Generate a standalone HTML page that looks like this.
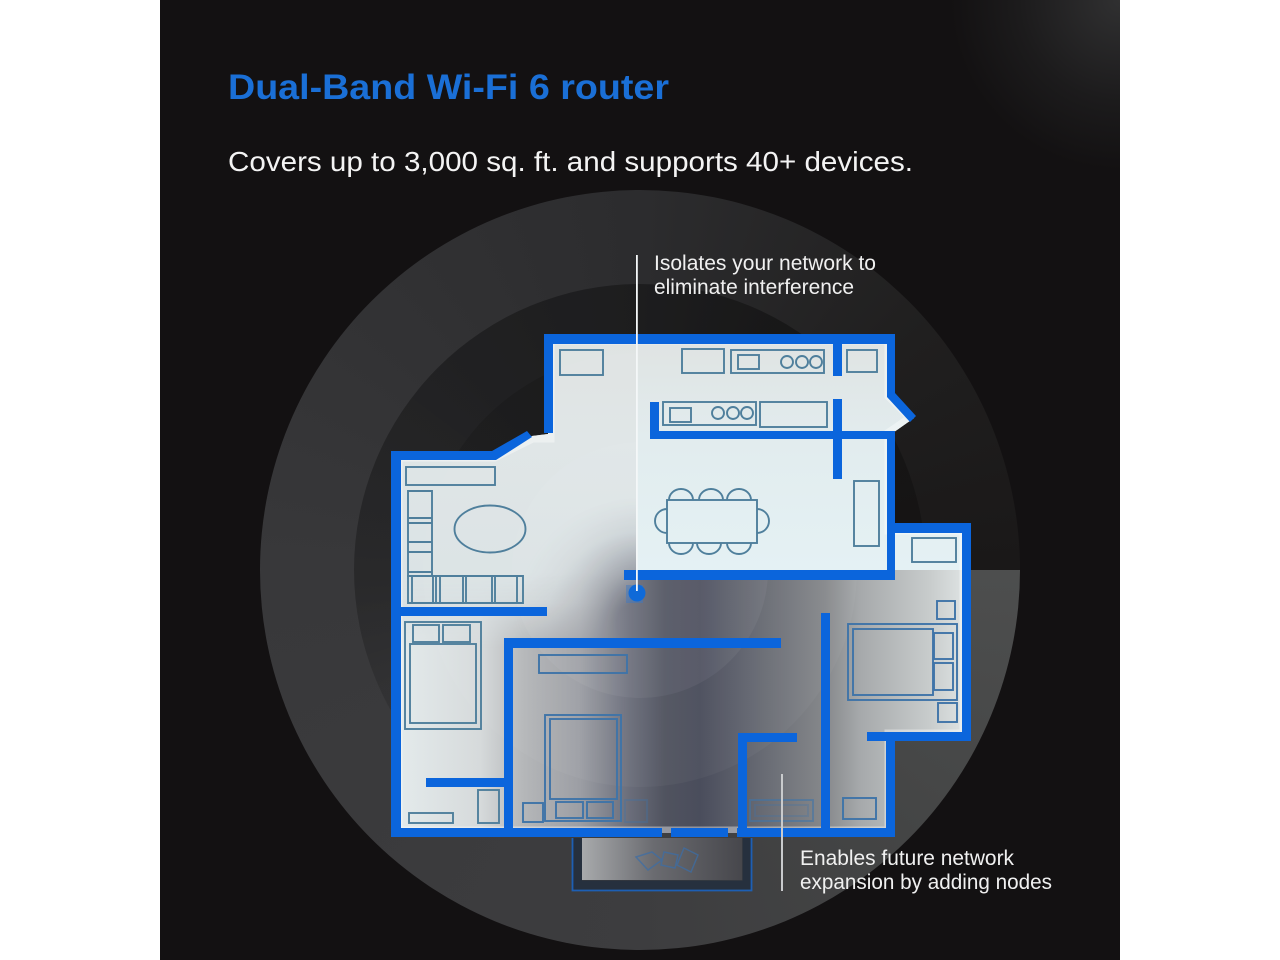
<!DOCTYPE html>
<html><head><meta charset="utf-8"><style>
html,body{margin:0;padding:0;background:#fff;width:1280px;height:960px;overflow:hidden}
.a{position:absolute}
#panel{left:160px;top:0;width:960px;height:960px;overflow:hidden;background:radial-gradient(circle 170px at 960px 0,#303031 0,#1c1b1c 60%,rgba(19,17,18,0) 100%),#131112}
#disc{left:260px;top:190px;width:760px;height:760px;border-radius:50%;background:conic-gradient(from 90deg,#4d4e4e 0deg,#444545 45deg,#3d3d3f 90deg,#38383a 180deg,#2c2c2e 270deg,#201f1f 320deg,#1a1818 360deg)}
#ring1{left:354px;top:284px;width:572px;height:572px;border-radius:50%;background:conic-gradient(from 90deg,rgba(0,0,0,0) 0deg,rgba(0,0,0,0) 130deg,rgba(0,0,0,.27) 178deg,rgba(0,0,0,.34) 230deg,rgba(0,0,0,.34) 300deg,rgba(0,0,0,.2) 359deg,rgba(0,0,0,0) 360deg)}
#ring2{left:423px;top:353px;width:434px;height:434px;border-radius:50%;background:conic-gradient(from 90deg,rgba(0,0,0,0) 0deg,rgba(0,0,0,0) 140deg,rgba(0,0,0,.12) 185deg,rgba(0,0,0,.16) 300deg,rgba(0,0,0,0) 360deg)}
#floor{left:0;top:0;width:1280px;height:960px;clip-path:polygon(548px 338px,891px 338px,891px 395px,914px 418px,897px 430px,891px 434px,891px 528px,966px 528px,966px 736px,891px 736px,891px 833px,396px 833px,396px 455px,494px 455px,532px 436px,548px 434px);background:linear-gradient(90deg,#e4ebec 396px,#d6dadb 480px,#b5b7b9 523px,#9c9ea4 580px,#6a6d7a 630px,#50535f 665px,#4a4d5c 700px,#70737a 780px,#86888b 825px,#a6a9ab 860px,#c8cccc 930px,#dfe4e4 966px)}
#fl{left:396px;top:338px;width:241px;height:310px;background:linear-gradient(180deg,#dfe3e2 0,#dfe6e7 100px,#dbe3e5 235px,rgba(216,223,225,.85) 265px,rgba(216,223,225,0) 310px);-webkit-mask-image:radial-gradient(circle 130px at 241px 285px,rgba(0,0,0,0) 20px,rgba(0,0,0,.4) 50px,rgba(0,0,0,.85) 90px,#000 125px);mask-image:radial-gradient(circle 130px at 241px 285px,rgba(0,0,0,0) 20px,rgba(0,0,0,.4) 50px,rgba(0,0,0,.85) 90px,#000 125px)}
#fc{left:637px;top:338px;width:332px;height:232px;background:linear-gradient(180deg,#dfe3e2 0,#e2ecee 100px,#e4f1f4 232px)}
svg{position:absolute;left:0;top:0}
text{font-family:"Liberation Sans",sans-serif}
</style></head><body>
<div class="a" id="panel"></div>
<div class="a" id="disc"></div>
<div class="a" id="ring1"></div>
<div class="a" id="ring2"></div>
<svg width="1280" height="960" viewBox="0 0 1280 960">
<defs><linearGradient id="bal" x1="0" x2="1" y1="0" y2="0"><stop offset="0" stop-color="#a8aaac"/><stop offset=".45" stop-color="#6a6b70"/><stop offset="1" stop-color="#47474c"/></linearGradient></defs>
<rect x="582" y="838" width="160" height="42" fill="url(#bal)"/>
<path d="M577.500 838V885H747V838" fill="none" stroke="#26303e" stroke-width="9"/>
<path d="M572.500 838V890.500H751.500V838" fill="none" stroke="#1d5fb4" stroke-width="1.800"/>
<g fill="none" stroke="#3a6ea8" stroke-width="1.500" opacity=".7"><path d="M636 857l16-5 10 8-14 10zM664 852l14 3-3 13-14-3zM684 848l14 7-7 17-14-7z"/></g>
</svg>
<div class="a" id="floor">
<div class="a" id="fl"></div>
<svg width="1280" height="960" viewBox="0 0 1280 960"><circle cx="640" cy="570" r="128" fill="#fff" opacity=".05"/><circle cx="640" cy="570" r="217" fill="#fff" opacity=".035"/></svg>
<div class="a" id="fc"></div>
<svg width="1280" height="960" viewBox="0 0 1280 960"><path d="M548 338H891V395L914 418L897 430L891 434V528H966V736H891V833H396V455H494L532 436H548Z" fill="none" stroke="#fff" stroke-width="13" opacity=".4"/></svg>
</div>
<svg width="1280" height="960" viewBox="0 0 1280 960">
<!-- furniture -->
<g fill="none" stroke="#4f7f9c" stroke-width="1.900">
<rect x="560" y="350" width="43" height="25"/><rect x="682" y="349" width="42" height="24"/>
<rect x="731" y="350" width="93" height="23"/><rect x="738" y="355" width="21" height="14"/>
<circle cx="787" cy="362" r="6"/><circle cx="802" cy="362" r="6"/><circle cx="816" cy="362" r="6"/>
<rect x="847" y="350" width="30" height="22"/>
<rect x="663" y="402" width="93" height="23"/><rect x="670" y="408" width="21" height="14"/>
<circle cx="718" cy="413" r="6"/><circle cx="733" cy="413" r="6"/><circle cx="747" cy="413" r="6"/>
<rect x="760" y="402" width="67" height="25"/>
<rect x="406" y="467" width="89" height="18"/>
<path d="M408 491H432V576H408ZM408 518H432M408 523H432M408 542H432M408 552H432M408 572H432"/>
<ellipse cx="490" cy="529" rx="35.500" ry="23.500"/>
<path d="M408 576H523V603H408ZM412 576V603M433 576V603M436 576V603M440 576V603M463 576V603M466 576V603M492 576V603M495 576V603M517 576V603"/>
<rect x="667" y="500" width="90" height="43"/>
<path d="M669 500a12 11 0 0 1 24 0M699 500a12 11 0 0 1 24 0M727 500a12 11 0 0 1 24 0M669 543a12 11 0 0 0 24 0M697 543a12 11 0 0 0 24 0M727 543a12 11 0 0 0 24 0M667 509a12 12 0 0 0 0 24M757 509a12 12 0 0 1 0 24"/>
<rect x="854" y="481" width="25" height="65"/>
<rect x="912" y="538" width="44" height="24"/>
<rect x="405" y="622" width="76" height="107"/><rect x="410" y="644" width="66" height="79"/>
<rect x="413" y="625" width="26" height="17"/><rect x="443" y="625" width="27" height="17"/>
<rect x="409" y="813" width="44" height="10"/><rect x="478" y="790" width="21" height="33"/>
</g>
<g fill="none" stroke="#3f74a8" stroke-width="1.900">
<rect x="539" y="655" width="88" height="18"/>
<rect x="545" y="715" width="76" height="106"/><rect x="550" y="719" width="67" height="80"/>
<rect x="556" y="802" width="27" height="16"/><rect x="587" y="802" width="26" height="16"/>
<rect x="523" y="803" width="20" height="19"/><rect x="625" y="800" width="22" height="22" opacity=".35"/>
<rect x="750" y="800" width="63" height="21" opacity=".6"/><rect x="755" y="805" width="53" height="11" opacity=".3"/>
<rect x="843" y="798" width="33" height="21"/>
<rect x="848" y="624" width="109" height="76"/><rect x="853" y="629" width="80" height="66"/>
<rect x="934" y="633" width="19" height="26"/><rect x="934" y="663" width="19" height="27"/>
<rect x="937" y="601" width="18" height="18"/><rect x="938" y="703" width="19" height="19"/>
</g>
<!-- walls -->
<g fill="#0b65dc">
<path d="M544 334H895V393L916 416L910 422L887 397V344H553V433H544Z"/>
<path d="M391 451H492L527 431L532 437L496 460H401V828H662V837H391Z"/>
<rect x="650" y="431" width="245" height="8"/><rect x="650" y="402" width="9" height="37"/>
<rect x="833" y="344" width="9" height="32"/><rect x="833" y="399" width="9" height="80"/>
<rect x="887" y="431" width="8" height="149"/><rect x="624" y="570" width="271" height="10"/>
<path d="M887 523H971V741H867V732H962V533H887Z"/><rect x="886" y="732" width="9" height="105"/>
<rect x="671" y="828" width="57" height="9"/><rect x="737" y="828" width="158" height="9"/>
<rect x="401" y="607" width="146" height="9"/>
<path d="M504 638H781V648H513V830H504Z"/><rect x="426" y="778" width="80" height="9"/>
<rect x="821" y="613" width="9" height="217"/>
<path d="M738 733H797V742H747V830H738Z"/>
</g>
<!-- router -->
<rect x="626" y="585" width="17" height="18" fill="#3a78c8" opacity=".45"/>
<circle cx="637" cy="593" r="8.500" fill="#0f6ad8"/>
<rect x="636" y="255" width="1.800" height="336" fill="#f4f7f8"/>
<rect x="781" y="774" width="2" height="117" fill="#c9cbcd"/>
<!-- text -->
<text x="228" y="99" font-size="35" font-weight="700" fill="#1a6fd6" textLength="441" lengthAdjust="spacingAndGlyphs">Dual-Band Wi-Fi 6 router</text>
<text x="228" y="171" font-size="28" fill="#f4f4f4" textLength="685" lengthAdjust="spacingAndGlyphs">Covers up to 3,000 sq. ft. and supports 40+ devices.</text>
<g font-size="21" fill="#f0f0f0">
<text x="654" y="270" textLength="222" lengthAdjust="spacingAndGlyphs">Isolates your network to</text>
<text x="654" y="294" textLength="200" lengthAdjust="spacingAndGlyphs">eliminate interference</text>
<text x="800" y="865" textLength="214" lengthAdjust="spacingAndGlyphs">Enables future network</text>
<text x="800" y="889" textLength="252" lengthAdjust="spacingAndGlyphs">expansion by adding nodes</text>
</g>
</svg>
</body></html>
